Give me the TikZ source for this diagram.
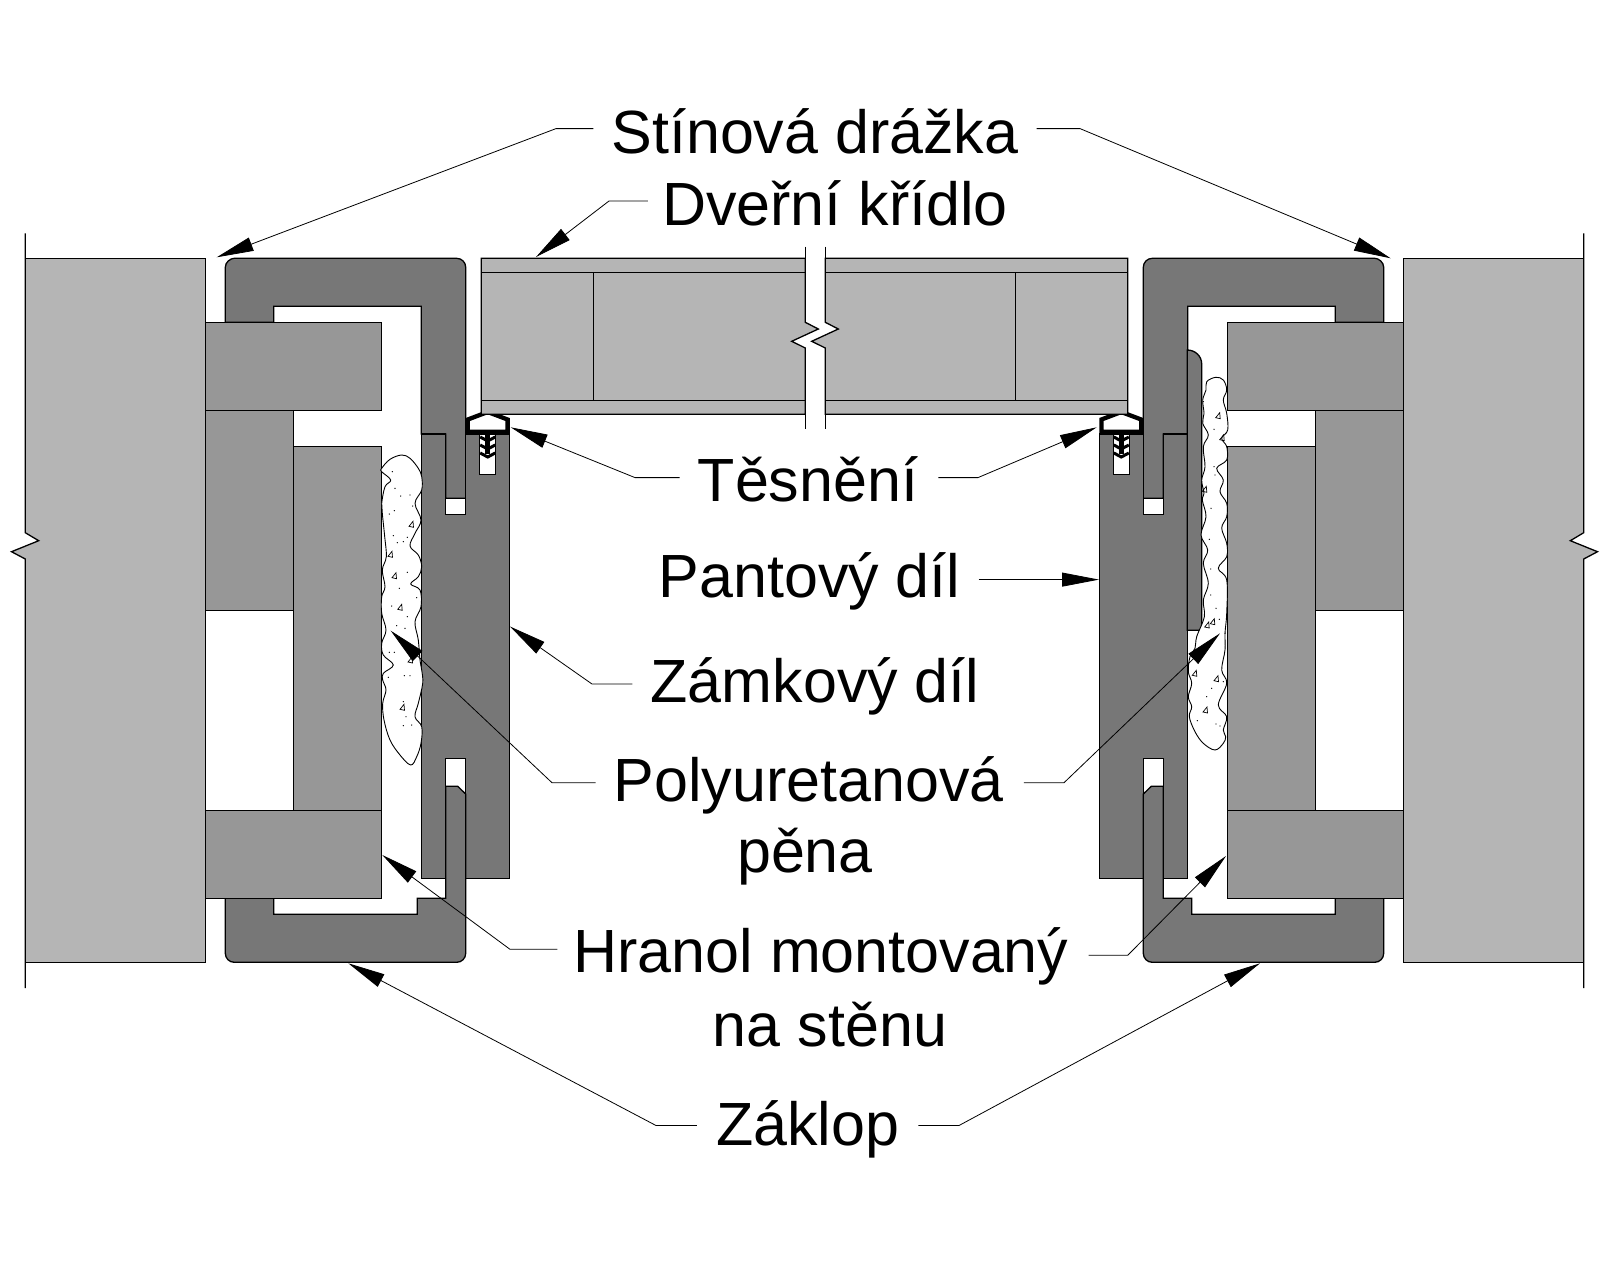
\documentclass[tikz,border=0pt]{standalone}
\usepackage{fontspec}
\setmainfont{Liberation Sans}
\usetikzlibrary{arrows.meta}
\tikzset{
  outline/.style={draw=black,line width=1.3pt,line join=miter},
  wallfill/.style={fill=wallgray},
  blockfill/.style={outline,fill=blockgray},
  framefill/.style={outline,fill=framegray},
  foamfill/.style={draw=black,line width=.9pt,fill=white},
  lead/.style={draw=black,line width=.8pt,-{Triangle[length=37pt,width=14pt]}},
  txt/.style={font=\fontsize{61}{70}\selectfont,inner sep=0pt,anchor=base},
}
\definecolor{wallgray}{HTML}{B5B5B5}
\definecolor{blockgray}{HTML}{979797}
\definecolor{framegray}{HTML}{777777}
\begin{document}
\begin{tikzpicture}[x=1pt,y=-1pt]
\useasboundingbox (0,0) rectangle (1600,1280);

% left half, then the same thing mirrored
\foreach \sx/\dx in {1/0,-1/1609}{
\begin{scope}[xshift=\dx,xscale=\sx]
\fill[wallfill] (25.3,258.3) -- (205.6,258.3) -- (205.6,962.3) -- (25.3,962.3) -- (25.3,559) -- (11.5,551.7) -- (38.7,540.7) -- (25.3,532.7) -- cycle;% Wall
\draw[outline] (25.3,233.3) -- (25.3,532.7) -- (38.7,540.7) -- (11.5,551.7) -- (25.3,559) -- (25.3,988);
\draw[outline] (25.3,258.3) -- (205.6,258.3) -- (205.6,962.3) -- (25.3,962.3);

\draw[framefill] (225.3,322.3) -- (225.3,267.3) .. controls (225.3,262.3) and (230.3,258.3) .. (234.3,258.3) -- (456.7,258.3) .. controls (461.7,258.3) and (465.7,262.3) .. (465.7,267.3) -- (465.7,498.3) -- (445.7,498.3) -- (445.7,434) -- (421.3,434) -- (421.3,306.3) -- (273.7,306.3) -- (273.7,322.3) -- cycle;% Upper frame
\draw[framefill] (421.3,434) -- (445.7,434) -- (445.7,514.7) -- (465.7,514.7) -- (465.7,434) -- (509.7,434) -- (509.7,878.3) -- (465.7,878.3) -- (465.7,758.3) -- (445.7,758.3) -- (445.7,878.3) -- (421.3,878.3) -- cycle;% Lock part
\draw[framefill] (225.3,898.3) -- (225.3,953.3) .. controls (225.3,958.3) and (229.3,962.3) .. (234.3,962.3) -- (456.7,962.3) .. controls (461.7,962.3) and (465.7,958.3) .. (465.7,953.3) -- (465.7,794) -- (457.7,786.3) -- (445.7,786.3) -- (445.7,898.3) -- (417.3,898.3) -- (417.3,914.3) -- (273.7,914.3) -- (273.7,898.3) -- cycle;% Lower frame

\draw[blockfill] (205.6,322.3) rectangle (381.7,410.3);% Upper block
\draw[blockfill] (205.6,410.3) rectangle (293.7,610.3);
\draw[blockfill] (293.7,446.3) rectangle (381.7,810.3);
\draw[blockfill] (205.6,810.3) rectangle (381.7,898.3);% Lower block

\draw[outline,fill=white] (479.7,434) rectangle (495.7,474.3);% Gasket
\draw[line width=5pt] (487.7,434) -- (487.7,454);
\foreach \yy in {442,450,458}{
    \draw[line width=3pt] (480.2,\yy-5) -- (487.7,\yy-1) -- (495.2,\yy-5);
}
\draw[line width=4.3pt,fill=white,line join=miter] (467.8,431.8) -- (467.8,419.5) -- (487.7,412) -- (507.6,419.5) -- (507.6,431.8) -- cycle;
\end{scope}
}

\draw[framefill] (1187.3,350) .. controls (1195,350) and (1201.7,356) .. (1201.7,364) -- (1201.7,630.3) -- (1187.3,630.3) -- cycle;% Strip

% Door leaf, broken in the middle
\draw[outline,fill=wallgray] (481.3,258.3) -- (805.3,258.3) -- (805.3,322.3) -- (818.3,329) -- (791.7,341.3) -- (805.3,348) -- (805.3,414.3) -- (481.3,414.3) -- cycle;
\draw[outline,fill=wallgray] (1127.7,258.3) -- (825.3,258.3) -- (825.3,322.3) -- (838.3,329) -- (811.7,341.3) -- (825.3,348) -- (825.3,414.3) -- (1127.7,414.3) -- cycle;
\draw[outline] (805.3,246.7) -- (805.3,258.3) (805.3,414.3) -- (805.3,429);
\draw[outline] (825.3,246.7) -- (825.3,258.3) (825.3,414.3) -- (825.3,429);
\foreach \yy in {272.3,400.3}{
    \draw[outline] (481.3,\yy) -- (805.3,\yy);
    \draw[outline] (825.3,\yy) -- (1127.7,\yy);
}
\draw[outline] (593.3,272.3) -- (593.3,400.3);
\draw[outline] (1015.3,272.3) -- (1015.3,400.3);

% Foam on the left
\draw[foamfill] plot[smooth cycle,tension=.6] coordinates {(381.7,468.3) (390,459.3) (401.7,455) (410,458.3) (418.3,468.3) (421.7,476.7) (421.7,490) (415,503.3) (421,520) (415,533.3) (410,546) (418.3,555) (421.7,566.7) (418.3,576.7) (410.7,584) (420,590) (421,606.7) (415,621.7) (418.3,640) (420,660) (421.7,670) (422.7,683.3) (418.3,703.3) (415,716.7) (421.7,726.7) (421,743.3) (416.7,756.7) (410.7,765) (400,755) (390,740) (384,720) (382.7,703.3) (386,690) (382.7,680) (383.3,673.3) (393.3,665) (383.3,655) (381.7,643.3) (386,630) (381.7,613.3) (381.7,596.7) (385,586.7) (382.3,570) (386.3,556.7) (384.7,536.7) (382.3,513.3) (381.7,503.3) (385,486.7) (390.7,480) (381.7,471.7)};
% Foam on the right
\draw[foamfill] plot[smooth cycle,tension=.6] coordinates {(1215.7,377.3) (1223.3,380) (1226.7,390) (1223.3,400) (1226.7,413.3) (1227.7,430) (1221.7,438.3) (1226.7,446.7) (1226.7,460) (1216.7,468.3) (1223.3,480) (1220,491.7) (1226.7,503.3) (1226.7,516.7) (1221.7,528) (1226.7,543.3) (1226.7,556.7) (1218.3,568.3) (1226.7,580) (1226.7,613.3) (1225,633.3) (1225,650) (1221.7,670) (1226.7,683.3) (1218.3,705) (1226.7,716.7) (1223.3,730) (1225.7,736.7) (1223.3,743.3) (1215,750) (1203.3,743.3) (1195,731.7) (1189.3,716.7) (1191.7,706.7) (1188.3,696.7) (1191.7,683.3) (1188.3,671.7) (1190,656.7) (1195,648.3) (1196.7,636.7) (1204.3,616.7) (1203.3,600) (1208.3,583.3) (1203.3,563.3) (1207.7,550) (1201,535) (1206,516.7) (1202.3,500) (1204,493.3) (1201.7,480) (1205,466.7) (1203.3,446.7) (1208.3,435) (1202.7,423.3) (1204,413.3) (1202.7,400) (1206,390) (1206.7,381.7)};
\foreach \xx/\yy in {392.3/471.7,395/488.3,400.7/496,410/495,412.7/506,394.3/510.7,389.3/514,393.3/535.7,407.3/537.3,397.3/542.7,403.3/541.7,407.3/572.3,399.3/588.3,416.7/597.7,391.7/606,407.3/616.7,396.7/625.7,405/628.3,389.3/652.3,394.3/652.3,388.3/677.3,404.3/675.7,410/675.7,403.3/701.7,406/716.7,403.3/725.7,411.7/725,1203.3/401.7,1214/429.3,1214/466.7,1215/475,1211/508.3,1209.3/539.3,1210.7/569,1210.7/595,1216/608.3,1219.3/619.3,1225/633.3,1223.3/681.7,1211.7/688.3,1206.7/696.7,1197.3/720.7,1216/724,1220/726}{
    \fill (\xx,\yy) circle (.7);
}
\foreach \xx/\yy in {411/524.3,390/554.3,394/575.7,399.7/607.3,410/660,402/707.3,1217.7/415.7,1221.7/437.7,1204.3/489.3,1206.7/625,1212.3/621.7,1194.3/673.3,1216/678.7,1205/710}{
    \draw[line width=.7pt] (\xx-2,\yy+2) -- (\xx+2,\yy-3) -- (\xx+2.5,\yy+3) -- cycle;
}

\node[txt] (stin) at (815,153) {Stínová drážka};
\node[txt] (dver) at (835,225.5) {Dveřní křídlo};
\node[txt] (tes) at (808,501) {Těsnění};
\node[txt] (pant) at (809.5,597) {Pantový díl};
\node[txt] (zam) at (815,702) {Zámkový díl};
\node[txt] (poly) at (808.7,801) {Polyuretanová};
\node[txt] (pena) at (805,872.5) {pěna};
\node[txt] (hran) at (821,972.5) {Hranol montovaný};
\node[txt] (nast) at (830,1046) {na stěnu};
\node[txt] (zak) at (807.6,1145) {Záklop};

\coordinate (stinLb) at (556,128.6);
\coordinate (stinLt) at (216.7,257.3);
\coordinate (stinRb) at (1080,128.6);
\coordinate (stinRt) at (1390.7,258.3);
\coordinate (dverb) at (609,201);
\coordinate (dvert) at (536,257);
\coordinate (tesLb) at (635,477.6);
\coordinate (tesLt) at (510.7,427.3);
\coordinate (tesRb) at (978,477.6);
\coordinate (tesRt) at (1096.7,427.3);
\coordinate (pantt) at (1099,579.6);
\coordinate (zamb) at (592,684);
\coordinate (zamt) at (510,626.5);
\coordinate (polyLb) at (552,782.7);
\coordinate (polyLt) at (390.7,630.7);
\coordinate (polyRb) at (1064,782.7);
\coordinate (polyRt) at (1220,633.3);
\coordinate (hranLb) at (510,949.3);
\coordinate (hranLt) at (382.3,855);
\coordinate (hranRb) at (1127.7,955.3);
\coordinate (hranRt) at (1226,856);
\coordinate (zakLb) at (656,1125.5);
\coordinate (zakLt) at (348.3,963.3);
\coordinate (zakRb) at (959,1125.5);
\coordinate (zakRt) at (1260,963.3);

\draw[lead] ([xshift=-18pt]stin.west |- stinLb) -- (stinLb) -- (stinLt);
\draw[lead] ([xshift=18pt]stin.east |- stinRb) -- (stinRb) -- (stinRt);
\draw[lead] ([xshift=-14pt]dver.west |- dverb) -- (dverb) -- (dvert);
\draw[lead] ([xshift=-18pt]tes.west |- tesLb) -- (tesLb) -- (tesLt);
\draw[lead] ([xshift=20pt]tes.east |- tesRb) -- (tesRb) -- (tesRt);
\draw[lead] ([xshift=18pt]pant.east |- pantt) -- (pantt);
\draw[lead] ([xshift=-18pt]zam.west |- zamb) -- (zamb) -- (zamt);
\draw[lead] ([xshift=-18pt]poly.west |- polyLb) -- (polyLb) -- (polyLt);
\draw[lead] ([xshift=20pt]poly.east |- polyRb) -- (polyRb) -- (polyRt);
\draw[lead] ([xshift=-16pt]hran.west |- hranLb) -- (hranLb) -- (hranLt);
\draw[lead] ([xshift=20pt]hran.east |- hranRb) -- (hranRb) -- (hranRt);
\draw[lead] ([xshift=-19pt]zak.west |- zakLb) -- (zakLb) -- (zakLt);
\draw[lead] ([xshift=19pt]zak.east |- zakRb) -- (zakRb) -- (zakRt);
\end{tikzpicture}
\end{document}
